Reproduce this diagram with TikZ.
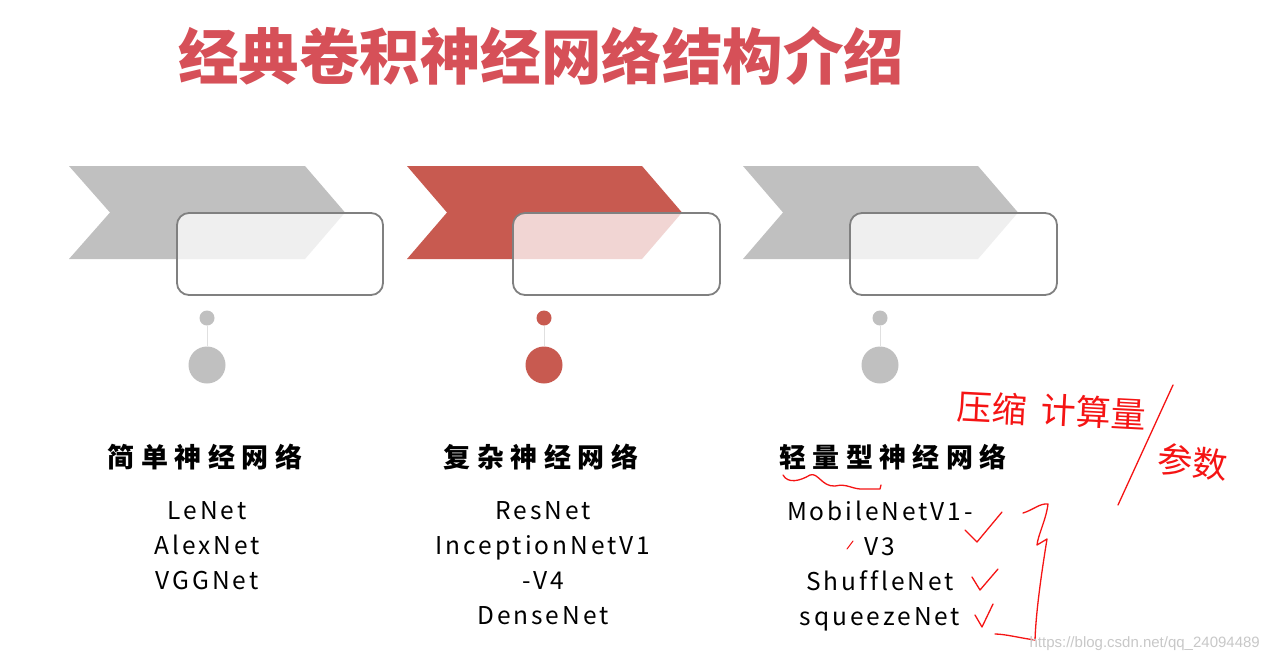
\documentclass[tikz,border=0pt]{standalone}
\usepackage{fontspec}
\newfontfamily\cjk{Noto Sans CJK SC}
\newfontfamily\cjkhead[LetterSpace=24]{Noto Sans CJK SC}
\newfontfamily\listfont[LetterSpace=12,Ligatures=NoCommon]{Noto Sans CJK SC}
\newfontfamily\wmfont{Liberation Sans}
\definecolor{titlered}{RGB}{214,80,88}
\definecolor{chevred}{RGB}{200,90,80}
\definecolor{chevgray}{RGB}{192,192,192}
\definecolor{boxline}{RGB}{128,128,128}
\definecolor{inkred}{RGB}{245,20,20}
\definecolor{wmgray}{RGB}{200,200,200}
\tikzset{
  cardbox/.style={draw=boxline, line width=1.8pt, rounded corners=12pt, fill=white, fill opacity=0.75},
  dotsmall/.style={circle, inner sep=0pt, minimum size=15pt},
  dotbig/.style={circle, inner sep=0pt, minimum size=37pt},
  stem/.style={draw=black!12, line width=1pt},
  head/.style={font=\cjkhead\bfseries\fontsize{27}{30}\selectfont, inner sep=0pt},
  listtext/.style={font=\listfont\fontsize{24.5}{35}\selectfont, align=center, inner sep=0pt, anchor=north},
  ink/.style={draw=inkred, line width=1.3pt, line cap=round, line join=round},
  inktext/.style={text=inkred, font=\cjk\fontsize{35}{35}\selectfont, inner sep=0pt}
}
\begin{document}
\begin{tikzpicture}[x=1pt,y=-1pt]
\useasboundingbox (0,0) rectangle (1268,662);
\fill[white] (0,0) rectangle (1268,662);

% title
\node[text=titlered, font=\cjk\bfseries\fontsize{60.5}{62}\selectfont, inner sep=0pt] (title) at (541,56) {经典卷积神经网络结构介绍};

% chevrons
\fill[chevgray] (69,166) -- (305,166) -- (345,212.5) -- (305,259) -- (69,259) -- (110,212.5) -- cycle;
\fill[chevred] (407,166) -- (642,166) -- (682,212.5) -- (642,259) -- (407,259) -- (447,212.5) -- cycle;
\fill[chevgray] (743,166) -- (978,166) -- (1018,212.5) -- (978,259) -- (743,259) -- (783,212.5) -- cycle;

% cards
\draw[cardbox] (177,213) rectangle (383,295);
\draw[cardbox] (513,213) rectangle (720,295);
\draw[cardbox] (850,213) rectangle (1057,295);

% dots
\node[dotsmall, fill=chevgray] (s1) at (207,318) {};
\node[dotbig, fill=chevgray] (b1) at (207,365) {};
\node[dotsmall, fill=chevred] (s2) at (544,318) {};
\node[dotbig, fill=chevred] (b2) at (544,365) {};
\node[dotsmall, fill=chevgray] (s3) at (880,318) {};
\node[dotbig, fill=chevgray] (b3) at (880,365) {};
\draw[stem] (s1) -- (b1);
\draw[stem] (s2) -- (b2);
\draw[stem] (s3) -- (b3);

% headings
\node[head] (h1) at (205,457) {简单神经网络};
\node[head] (h2) at (541,457) {复杂神经网络};
\node[head] (h3) at (893,457) {轻量型神经网络};

% lists
\node[listtext] (l1) at (207,501) {LeNet\\AlexNet\\VGGNet};
\node[listtext] (l2) at (543,501) {ResNet\\InceptionNetV1\\-V4\\DenseNet};
\node[listtext] (l3) at (880,501) {MobileNetV1-\\V3\\ShuffleNet\\squeezeNet};

% handwritten annotations
\node[inktext, rotate=-3] (hw1) at (992,408) {压缩};
\node[inktext, rotate=-3] (hw2) at (1094,412) {计算量};
\node[inktext, rotate=-6] (hw3) at (1193,462) {参数};
\draw[ink] (1173,385) -- (1118,505);
\draw[ink] (783,475) .. controls (788,484) and (800,481) .. (810,475) .. controls (818,472) and (822,487) .. (835,486) .. controls (848,483) and (852,490) .. (865,489) -- (880,489) -- (881,485);
\draw[ink] (965,530) -- (977,542) -- (1002,512);
\draw[ink] (972,577) -- (980,590) -- (998,569);
\draw[ink] (975,615) -- (982,627) -- (993,604);
\draw[ink] (1023,513) .. controls (1033,510) and (1040,503) .. (1048,504) .. controls (1046,520) and (1038,535) .. (1037,545) -- (1047,539) .. controls (1042,570) and (1036,610) .. (1035,640) .. controls (1020,638) and (1005,634) .. (995,634);
\draw[ink, line width=1pt] (847,549) -- (853,541);

% watermark
\node[text=wmgray, font=\wmfont\fontsize{15}{15}\selectfont, inner sep=0pt, anchor=east] (wm) at (1260,644) {https://blog.csdn.net/qq\_24094489};
\end{tikzpicture}
\end{document}
